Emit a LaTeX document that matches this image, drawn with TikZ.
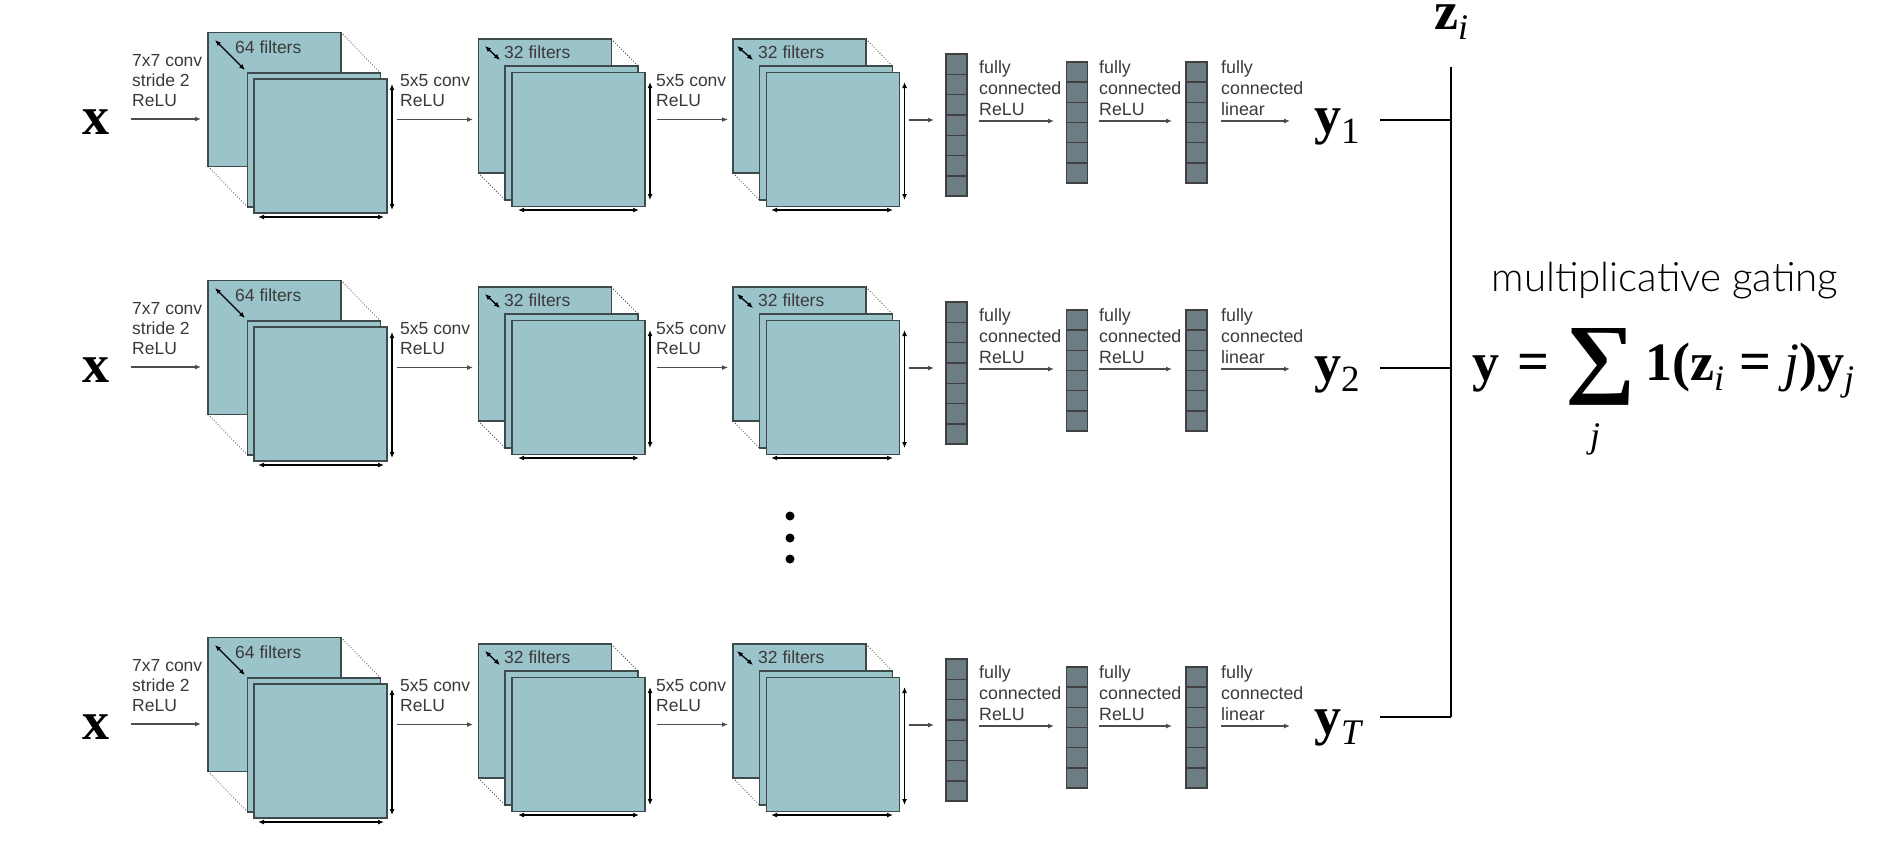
\documentclass[tikz,border=0pt]{standalone}
\usepackage{fontspec}
\setmainfont{Liberation Sans}
\newfontfamily\serifface{Liberation Serif}
\newfontfamily\gateface[UprightFont={* Light}]{Lato}
\usetikzlibrary{arrows.meta}
\definecolor{teal}{HTML}{9BC3CA}
\definecolor{edge}{HTML}{3F4A4C}
\definecolor{barfill}{HTML}{6C7D83}
\definecolor{lbl}{HTML}{3A3A3A}
\newcommand{\Bf}[1]{{\fontsize{54}{54}\selectfont\serifface\bfseries #1}}
\newcommand{\Sbi}[1]{\raisebox{-10pt}{\fontsize{36}{36}\selectfont\serifface\itshape #1}}
\newcommand{\Sbr}[1]{\raisebox{-10pt}{\fontsize{37}{37}\selectfont\serifface #1}}
\newcommand{\EqSign}{\resizebox{32pt}{!}{\Bf{=}}}
\tikzset{
  x=1pt,y=-1pt,
  blk/.style={draw=edge,fill=teal,line width=1.6pt,inner sep=0pt,outer sep=0pt,minimum width=133pt,minimum height=134pt},
  cell/.style={draw=black!75,fill=barfill,line width=1.5pt,inner sep=0pt,outer sep=0pt,minimum width=21pt},
  lab/.style={anchor=base west,inner sep=0pt,text=lbl,font=\fontsize{17.5}{19.8}\selectfont,align=left},
  fclab/.style={anchor=base west,inner sep=0pt,text=lbl,font=\fontsize{17.8}{21}\selectfont,align=left},
  arr/.style={draw=black!70,line width=1.3pt,-{Latex[length=6pt,width=5pt]}},
  dim/.style={draw=black,line width=1.3pt,{Latex[length=6pt,width=5pt]}-{Latex[length=6pt,width=5pt]}},
  dots/.style={draw=black!80,line width=0.8pt,dotted},
  bigsym/.style={anchor=base west,inner sep=0pt},
  wire/.style={draw=black,line width=1.8pt},
  dotnode/.style={circle,fill=black,inner sep=0pt,minimum size=9pt}
}
% #1 name prefix, #2 row y-offset
\newcommand{\NetRow}[2]{%
\begin{scope}[shift={(0,#2)}]
  \node[bigsym] (#1x) at (82,134) {\Bf{x}};
  % block A
  \node[blk] (#1a1) at (274.5,99.5) {};
  \node[blk] (#1a2) at (314,140) {};
  \node[blk] (#1a3) at (320.5,146) {};
  \draw[dots] (#1a1.north east) -- (#1a2.north east);
  \draw[dots] (#1a1.south west) -- (#1a2.south west);
  % block B
  \node[blk] (#1b1) at (545,106) {};
  \node[blk] (#1b2) at (571.5,133) {};
  \node[blk] (#1b3) at (578.5,139.5) {};
  \draw[dots] (#1b1.north east) -- (#1b2.north east);
  \draw[dots] (#1b1.south west) -- (#1b2.south west);
  % block C
  \node[blk] (#1c1) at (799.5,106) {};
  \node[blk] (#1c2) at (826,133) {};
  \node[blk] (#1c3) at (833,139.5) {};
  \draw[dots] (#1c1.north east) -- (#1c2.north east);
  \draw[dots] (#1c1.south west) -- (#1c2.south west);
  % labels
  \node[lab] (#1t1) at (132,106.5) {7x7 conv\\stride 2\\ReLU};
  \node[lab] (#1t2) at (400,106.5) {5x5 conv\\ReLU};
  \node[lab] (#1t3) at (656,106.5) {5x5 conv\\ReLU};
  \node[lab] (#1f1) at (235,53) {64 filters};
  \node[lab] (#1f2) at (504,58) {32 filters};
  \node[lab] (#1f3) at (758,58) {32 filters};
  % bars
  \foreach \i in {0,...,6} {\node[cell,minimum height=20.3pt] (#1p\i) at (956.5,{64.2+20.3*\i}) {};}
  \foreach \i in {0,...,5} {\node[cell,minimum height=20.2pt] (#1q\i) at (1077,{72+20.2*\i}) {};
    \node[cell,minimum height=20.2pt] (#1r\i) at (1196.5,{72+20.2*\i}) {};}
  \node[fclab] (#1u1) at (979,115) {fully\\connected\\ReLU};
  \node[fclab] (#1u2) at (1099,115) {fully\\connected\\ReLU};
  \node[fclab] (#1u3) at (1221,115) {fully\\connected\\linear};
  % connector ends
  \coordinate (#1s1) at (131,119); \coordinate (#1e1) at (201,119);
  \coordinate (#1s2) at (397,119.5); \coordinate (#1e2) at (473,119.5);
  \coordinate (#1s3) at (657,119.5); \coordinate (#1e3) at (728,119.5);
  \coordinate (#1s4) at (909,120); \coordinate (#1e4) at (934,120);
  \coordinate (#1s5) at (979,121); \coordinate (#1e5) at (1054,121);
  \coordinate (#1s6) at (1099,121); \coordinate (#1e6) at (1172,121);
  \coordinate (#1s7) at (1221,121); \coordinate (#1e7) at (1290,121);
  \foreach \k in {1,...,7} {\draw[arr] (#1s\k) -- (#1e\k);}
  % dimension arrows
  \coordinate (#1d1) at (215,40); \coordinate (#1d2) at (245,70);
  \coordinate (#1d3) at (485,46); \coordinate (#1d4) at (500,60);
  \coordinate (#1d5) at (737,46); \coordinate (#1d6) at (753,60);
  \coordinate (#1h1) at (392,84); \coordinate (#1h2) at (392,210);
  \coordinate (#1h3) at (650,82); \coordinate (#1h4) at (650,200);
  \coordinate (#1h5) at (904.5,82); \coordinate (#1h6) at (904.5,200);
  \coordinate (#1w1) at (258,217); \coordinate (#1w2) at (384,217);
  \coordinate (#1w3) at (518,210); \coordinate (#1w4) at (639,210);
  \coordinate (#1w5) at (771,210); \coordinate (#1w6) at (893,210);
  \draw[dim] (#1d1) -- (#1d2); \draw[dim] (#1d3) -- (#1d4); \draw[dim] (#1d5) -- (#1d6);
  \draw[dim] (#1h1) -- (#1h2); \draw[dim] (#1h3) -- (#1h4); \draw[dim] (#1h5) -- (#1h6);
  \draw[dim] (#1w1) -- (#1w2); \draw[dim] (#1w3) -- (#1w4); \draw[dim] (#1w5) -- (#1w6);
\end{scope}}
\begin{document}
\begin{tikzpicture}
\useasboundingbox[fill=white] (0,0) rectangle (1884,854);
\NetRow{A}{0}
\NetRow{B}{248}
\NetRow{C}{605}
% dots
\node[dotnode] (v1) at (790,516) {};
\node[dotnode] (v2) at (790,538) {};
\node[dotnode] (v3) at (790,559) {};
% outputs
\node[bigsym] (y1) at (1314,133) {\Bf{y}\Sbr{1}};
\node[bigsym] (y2) at (1314,381) {\Bf{y}\Sbr{2}};
\node[bigsym] (yT) at (1314,734) {\Bf{y}\Sbi{T}};
\node[bigsym] (zi) at (1434,29) {\Bf{z}\Sbi{i}};
\coordinate (top) at (1451,67);
\coordinate (bot) at (1451,717);
\coordinate (j1) at (1451,120);
\coordinate (j2) at (1451,368);
\coordinate (l1) at (1380,120);
\coordinate (l2) at (1380,368);
\coordinate (l3) at (1380,717);
\draw[wire] (top) -- (bot);
\draw[wire] (l1) -- (j1);
\draw[wire] (l2) -- (j2);
\draw[wire] (l3) -- (bot);
% formula
\node[anchor=base,inner sep=0pt] (gate) at (1665,291) {\fontsize{40.3}{40.3}\selectfont\gateface multiplicative gating};
\node[bigsym] (eqy) at (1472,380) {\Bf{y}\hspace{18pt}\EqSign};
\node[inner sep=0pt] (sum) at (1600,367) {\resizebox{70pt}{58pt}{\serifface\bfseries ∑}};
\node[bigsym] (j) at (1590,447) {\fontsize{36}{36}\selectfont\serifface\itshape j};
\node[bigsym] (rhs) at (1645,380) {\Bf{1(z}\Sbi{i}\hspace{15pt}\EqSign\hspace{13pt}{\fontsize{54}{54}\selectfont\serifface\itshape j}\Bf{)y}\Sbi{j}};
\end{tikzpicture}
\end{document}
